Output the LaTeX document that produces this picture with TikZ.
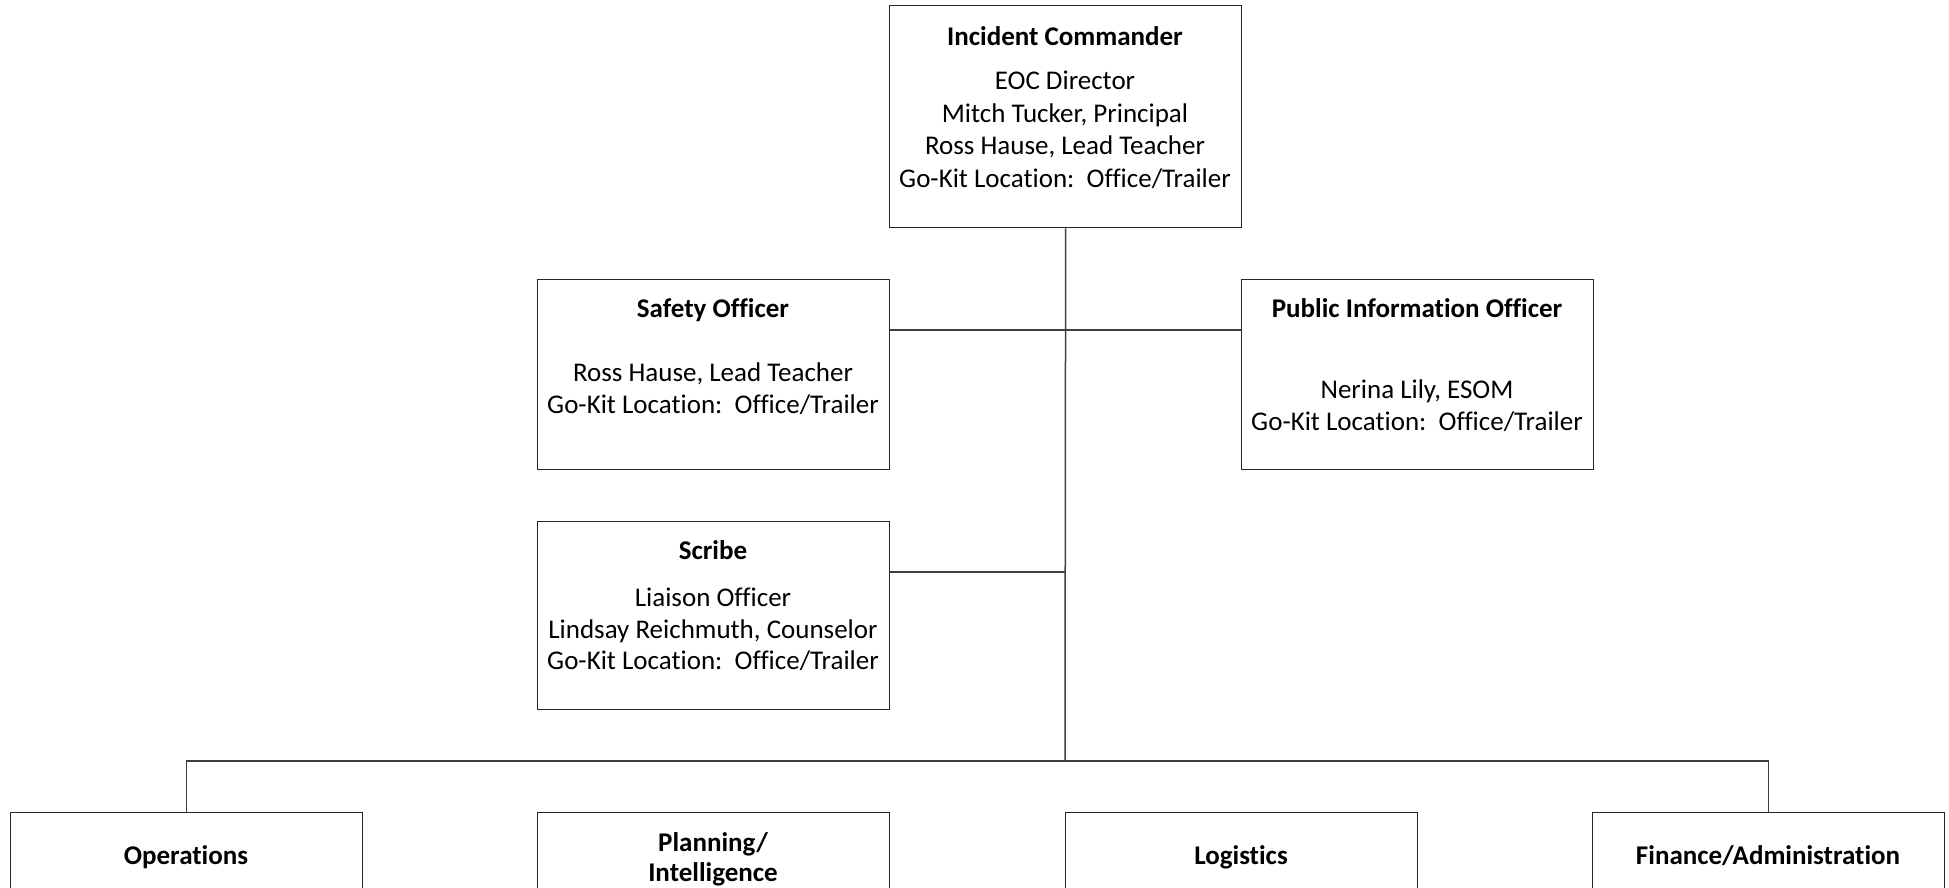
\documentclass[tikz,border=0pt]{standalone}
\usepackage{fontspec}
\setmainfont{Carlito}[Ligatures=NoCommon]
\begin{document}
\begin{tikzpicture}[x=1pt,y=-1pt,
  box/.style={draw=black!85, line width=1.3pt, minimum width=352pt, inner sep=0pt, anchor=north west},
  link/.style={draw=black!75, line width=1.5pt},
  ttl/.style={anchor=base, inner sep=0pt, font=\fontsize{27}{29}\selectfont\bfseries},
  txt/.style={anchor=base, inner sep=0pt, font=\fontsize{27}{29}\selectfont}]
\useasboundingbox (0,0) rectangle (1949,887);
\clip (0,0) rectangle (1949,887);
\fill[white] (0,0) rectangle (1949,887);
% boxes
\node[box, minimum height=222pt] (ic) at (889,5) {};
\node[box, minimum height=190pt] (safety) at (537,279) {};
\node[box, minimum height=190pt] (pio) at (1241,279) {};
\node[box, minimum height=188pt] (scribe) at (537,521) {};
\node[box, minimum height=200pt] (ops) at (10,812) {};
\node[box, minimum height=200pt] (plan) at (537,812) {};
\node[box, minimum height=200pt] (log) at (1065,812) {};
\node[box, minimum height=200pt] (fin) at (1592,812) {};
% connector coordinates
\coordinate (sj) at (1065,330);
\coordinate (scj) at (1065,572);
\coordinate (hub) at (1065,761);
% connectors
\draw[link] (ic.south) -- (hub);
\draw[link] (safety.east |- sj) -- (pio.west |- sj);
\draw[link] (scribe.east |- scj) -- (scj);
\draw[link] (ops.north) -- (ops.north |- hub) -- (fin.north |- hub) -- (fin.north);
% Incident Commander
\node[ttl] (ict) at (1065,45) {Incident Commander};
\node[txt] (ic1) at (1065,89.5) {EOC Director};
\node[txt] (ic2) at (1065,122) {Mitch Tucker, Principal};
\node[txt] (ic3) at (1065,154.5) {Ross Hause, Lead Teacher};
\node[txt] (ic4) at (1065,187) {Go-Kit Location:\ \ Office/Trailer};
% Safety Officer
\node[ttl] (saft) at (713,317) {Safety Officer};
\node[txt] (saf1) at (713,381) {Ross Hause, Lead Teacher};
\node[txt] (saf2) at (713,413.5) {Go-Kit Location:\ \ Office/Trailer};
% Public Information Officer
\node[ttl] (piot) at (1417,317) {Public Information Officer};
\node[txt] (pio1) at (1417,398) {Nerina Lily, ESOM};
\node[txt] (pio2) at (1417,430.5) {Go-Kit Location:\ \ Office/Trailer};
% Scribe
\node[ttl] (scrt) at (713,559) {Scribe};
\node[txt] (scr1) at (713,606.5) {Liaison Officer};
\node[txt] (scr2) at (713,638) {Lindsay Reichmuth, Counselor};
\node[txt] (scr3) at (713,669.5) {Go-Kit Location:\ \ Office/Trailer};
% bottom row
\node[ttl] (opst) at (186,864) {Operations};
\node[ttl] (plant1) at (713,851) {Planning/};
\node[ttl] (plant2) at (713,881) {Intelligence};
\node[ttl] (logt) at (1241,864) {Logistics};
\node[ttl] (fint) at (1768,864) {Finance/Administration};
\end{tikzpicture}
\end{document}
